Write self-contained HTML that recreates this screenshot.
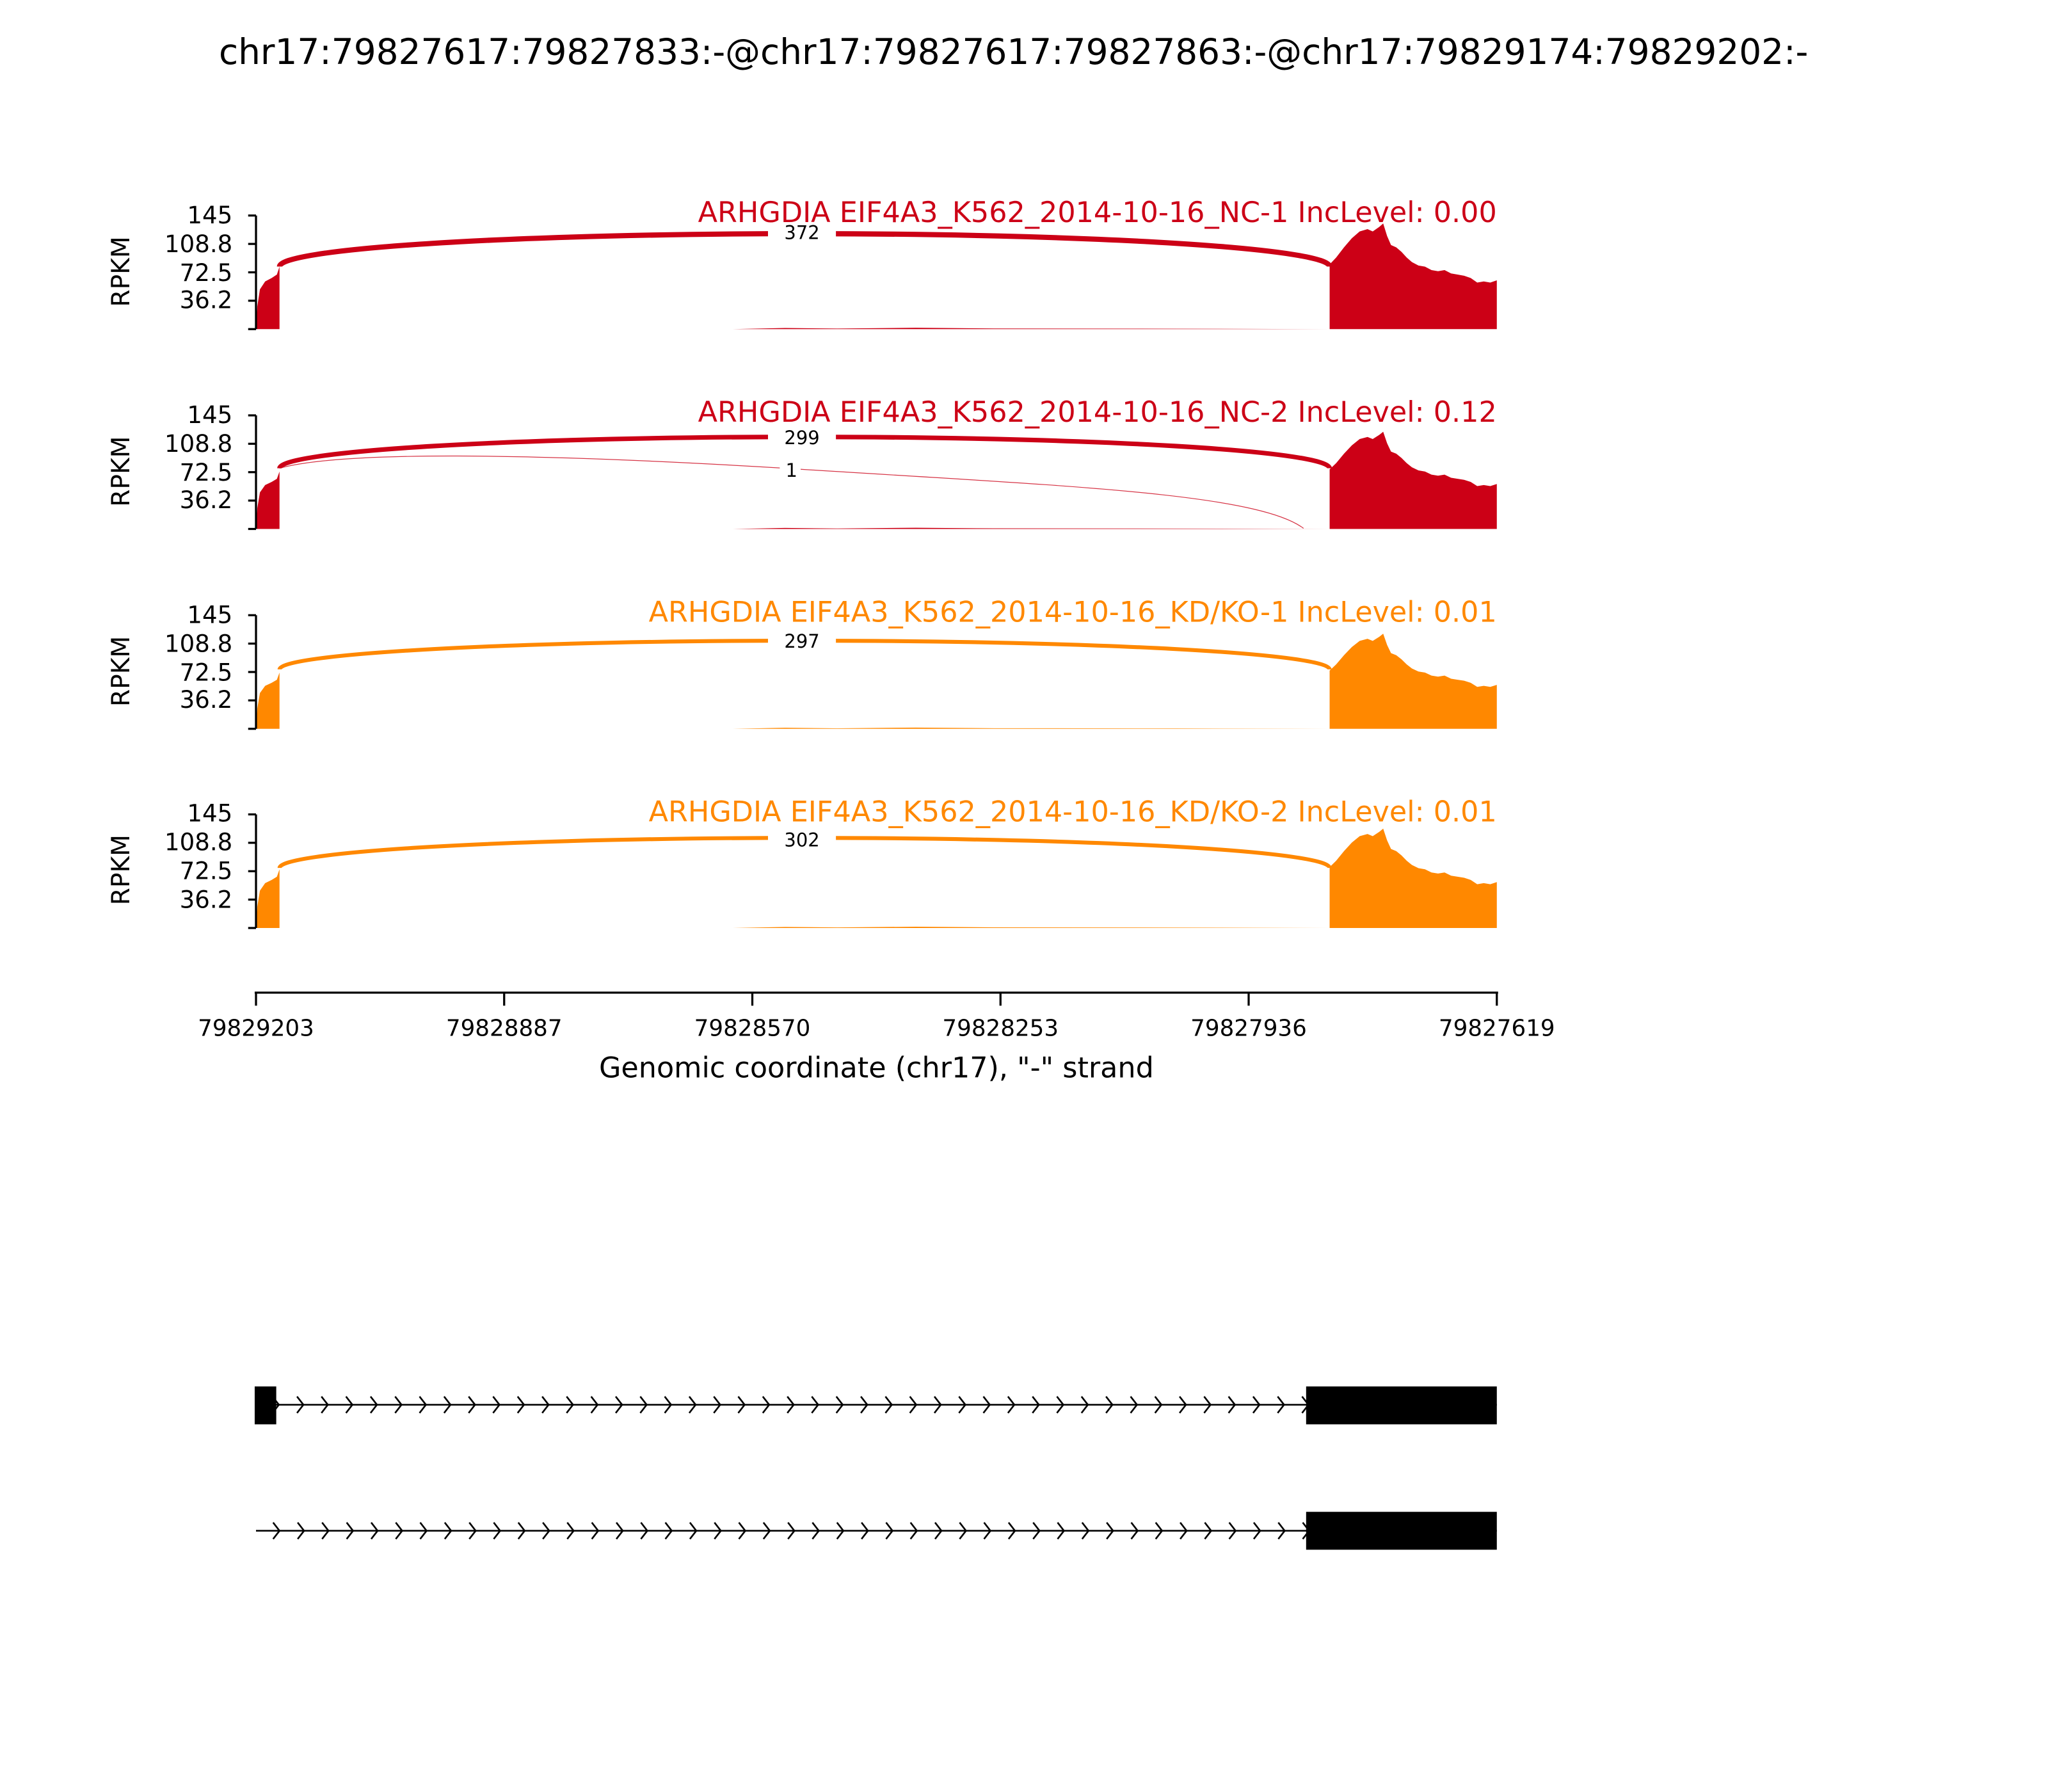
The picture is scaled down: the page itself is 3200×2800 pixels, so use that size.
<!DOCTYPE html>
<html><head><meta charset="utf-8"><style>
html,body{margin:0;padding:0;background:#fff}
svg{display:block}
text{font-family:"DejaVu Sans","Liberation Sans",sans-serif}
</style></head><body>
<svg width="3200" height="2800" viewBox="0 0 1568 1372" preserveAspectRatio="none" xmlns="http://www.w3.org/2000/svg">
<defs>
<path id="rc" d="M1017,0 L1017,0.57 L1022,0.63 L1028,0.72 L1034,0.80 L1040,0.86 L1046,0.88 L1050,0.86 L1055,0.90 L1058,0.93 L1061,0.82 L1064,0.74 L1068,0.72 L1072,0.68 L1076,0.63 L1080,0.59 L1085,0.56 L1090,0.55 L1095,0.52 L1100,0.51 L1105,0.52 L1110,0.49 L1115,0.48 L1120,0.47 L1125,0.45 L1130,0.41 L1135,0.42 L1140,0.41 L1145,0.43 L1145,0 Z"/>
<path id="lc" d="M195,0 L196,0.2 L198,0.35 L202,0.42 L207,0.45 L211,0.48 L213,0.55 L213,0 Z"/>
<path id="mc" d="M195,0 L560,0 L600,0.01 L640,0.005 L700,0.012 L760,0.006 L900,0.004 L1017,0 Z"/>
<path id="chv" d="M207.6,1057.2 l4.9,6.3 l-4.9,6.3 M226.4,1057.2 l4.9,6.3 l-4.9,6.3 M245.1,1057.2 l4.9,6.3 l-4.9,6.3 M263.9,1057.2 l4.9,6.3 l-4.9,6.3 M282.7,1057.2 l4.9,6.3 l-4.9,6.3 M301.5,1057.2 l4.9,6.3 l-4.9,6.3 M320.2,1057.2 l4.9,6.3 l-4.9,6.3 M339,1057.2 l4.9,6.3 l-4.9,6.3 M357.8,1057.2 l4.9,6.3 l-4.9,6.3 M376.5,1057.2 l4.9,6.3 l-4.9,6.3 M395.3,1057.2 l4.9,6.3 l-4.9,6.3 M414.1,1057.2 l4.9,6.3 l-4.9,6.3 M432.8,1057.2 l4.9,6.3 l-4.9,6.3 M451.6,1057.2 l4.9,6.3 l-4.9,6.3 M470.4,1057.2 l4.9,6.3 l-4.9,6.3 M489.2,1057.2 l4.9,6.3 l-4.9,6.3 M507.9,1057.2 l4.9,6.3 l-4.9,6.3 M526.7,1057.2 l4.9,6.3 l-4.9,6.3 M545.5,1057.2 l4.9,6.3 l-4.9,6.3 M564.2,1057.2 l4.9,6.3 l-4.9,6.3 M583,1057.2 l4.9,6.3 l-4.9,6.3 M601.8,1057.2 l4.9,6.3 l-4.9,6.3 M620.5,1057.2 l4.9,6.3 l-4.9,6.3 M639.3,1057.2 l4.9,6.3 l-4.9,6.3 M658.1,1057.2 l4.9,6.3 l-4.9,6.3 M676.9,1057.2 l4.9,6.3 l-4.9,6.3 M695.6,1057.2 l4.9,6.3 l-4.9,6.3 M714.4,1057.2 l4.9,6.3 l-4.9,6.3 M733.2,1057.2 l4.9,6.3 l-4.9,6.3 M751.9,1057.2 l4.9,6.3 l-4.9,6.3 M770.7,1057.2 l4.9,6.3 l-4.9,6.3 M789.5,1057.2 l4.9,6.3 l-4.9,6.3 M808.2,1057.2 l4.9,6.3 l-4.9,6.3 M827,1057.2 l4.9,6.3 l-4.9,6.3 M845.8,1057.2 l4.9,6.3 l-4.9,6.3 M864.6,1057.2 l4.9,6.3 l-4.9,6.3 M883.3,1057.2 l4.9,6.3 l-4.9,6.3 M902.1,1057.2 l4.9,6.3 l-4.9,6.3 M920.9,1057.2 l4.9,6.3 l-4.9,6.3 M939.6,1057.2 l4.9,6.3 l-4.9,6.3 M958.4,1057.2 l4.9,6.3 l-4.9,6.3 M977.2,1057.2 l4.9,6.3 l-4.9,6.3 M995.9,1057.2 l4.9,6.3 l-4.9,6.3"/>
</defs>
<text x="776" y="49" font-size="26.9" text-anchor="middle">chr17:79827617:79827833:-@chr17:79827617:79827863:-@chr17:79829174:79829202:-</text>

<g transform="translate(1,1.5)">
<g transform="translate(0,250.5) scale(1,-87)" fill="#CC0016"><use href="#lc"/><use href="#rc"/><use href="#mc"/></g>
<path d="M213,202.6 A402,25.2 0 0 1 1017,202.6" fill="none" stroke="#CC0016" stroke-width="4"/>
<g transform="translate(0,403.5) scale(1,-87) scale(1,0.92)" fill="#CC0016"><use href="#lc"/><use href="#rc"/><use href="#mc"/></g>
<path d="M213,357 A402,24 0 0 1 1017,357" fill="none" stroke="#CC0016" stroke-width="3.5"/>
<path d="M213,357 C260,344 400,345 600,357 C800,370 960,375 997,403" fill="none" stroke="#CC0016" stroke-width="0.6" opacity="0.8"/>
<g transform="translate(0,556.5) scale(1,-87) scale(1,0.9)" fill="#FF8800"><use href="#lc"/><use href="#rc"/><use href="#mc"/></g>
<path d="M213,511 A402,22 0 0 1 1017,511" fill="none" stroke="#FF8800" stroke-width="3"/>
<g transform="translate(0,709) scale(1,-87) scale(1,0.94)" fill="#FF8800"><use href="#lc"/><use href="#rc"/><use href="#mc"/></g>
<path d="M213,663 A402,23 0 0 1 1017,663" fill="none" stroke="#FF8800" stroke-width="3"/>

<g stroke="#000" stroke-width="1.6" fill="none">
<path d="M195,163.5 V250.5 M189,163.5 H195 M189,185.25 H195 M189,207 H195 M189,228.75 H195 M189,250.5 H195"/>
<path d="M195,316.5 V403.5 M189,316.5 H195 M189,338.25 H195 M189,360 H195 M189,381.75 H195 M189,403.5 H195"/>
<path d="M195,469.5 V556.5 M189,469.5 H195 M189,491.25 H195 M189,513 H195 M189,534.75 H195 M189,556.5 H195"/>
<path d="M195,622 V709 M189,622 H195 M189,643.75 H195 M189,665.5 H195 M189,687.25 H195 M189,709 H195"/>
</g>
</g>

<g transform="translate(1,0)">
<g stroke="#000" stroke-width="1.3" fill="none">
<path d="M195,1075.5 H1145"/>
<path d="M195,1172 H1145"/>
<use href="#chv" transform="translate(0,12)"/>
<use href="#chv" transform="translate(0.5,108.5)"/>
</g>
<rect x="194" y="1061.5" width="16.5" height="29" fill="#000"/>
<rect x="999" y="1061.5" width="146" height="29" fill="#000"/>
<rect x="999" y="1157.5" width="146" height="29" fill="#000"/>
</g>

<rect x="588" y="171" width="52" height="14" fill="#fff"/>
<text x="614" y="183" font-size="14.2" text-anchor="middle">372</text>
<text x="1146" y="170" font-size="21.8" text-anchor="end" fill="#CC0016">ARHGDIA EIF4A3_K562_2014-10-16_NC-1 IncLevel: 0.00</text>

<rect x="588" y="328" width="52" height="14" fill="#fff"/>
<text x="614" y="340" font-size="14.2" text-anchor="middle">299</text>
<rect x="597" y="352" width="16" height="14" fill="#fff"/>
<text x="606" y="365" font-size="14.2" text-anchor="middle">1</text>
<text x="1146" y="323" font-size="21.8" text-anchor="end" fill="#CC0016">ARHGDIA EIF4A3_K562_2014-10-16_NC-2 IncLevel: 0.12</text>

<rect x="588" y="483" width="52" height="14" fill="#fff"/>
<text x="614" y="496" font-size="14.2" text-anchor="middle">297</text>
<text x="1146" y="476" font-size="21.8" text-anchor="end" fill="#FF8800">ARHGDIA EIF4A3_K562_2014-10-16_KD/KO-1 IncLevel: 0.01</text>

<rect x="588" y="635" width="52" height="14" fill="#fff"/>
<text x="614" y="648" font-size="14.2" text-anchor="middle">302</text>
<text x="1146" y="629" font-size="21.8" text-anchor="end" fill="#FF8800">ARHGDIA EIF4A3_K562_2014-10-16_KD/KO-2 IncLevel: 0.01</text>

<g font-size="18.2" text-anchor="end">
<text x="178" y="171">145</text><text x="178" y="193">108.8</text><text x="178" y="215">72.5</text><text x="178" y="236">36.2</text>
<text x="178" y="324">145</text><text x="178" y="346">108.8</text><text x="178" y="368">72.5</text><text x="178" y="389">36.2</text>
<text x="178" y="477">145</text><text x="178" y="499">108.8</text><text x="178" y="521">72.5</text><text x="178" y="542">36.2</text>
<text x="178" y="629">145</text><text x="178" y="651">108.8</text><text x="178" y="673">72.5</text><text x="178" y="695">36.2</text>
</g>
<g font-size="19.2" text-anchor="middle">
<text transform="translate(99,208) rotate(-90)">RPKM</text>
<text transform="translate(99,361) rotate(-90)">RPKM</text>
<text transform="translate(99,514) rotate(-90)">RPKM</text>
<text transform="translate(99,666) rotate(-90)">RPKM</text>
</g>

<g stroke="#000" stroke-width="1.6">
<path d="M195,760 H1147"/>
<path d="M196,760 V770 M386,760 V770 M576,760 V770 M766,760 V770 M956,760 V770 M1146,760 V770"/>
</g>
<g font-size="17.5" text-anchor="middle">
<text x="196" y="793">79829203</text><text x="386" y="793">79828887</text><text x="576" y="793">79828570</text>
<text x="766" y="793">79828253</text><text x="956" y="793">79827936</text><text x="1146" y="793">79827619</text>
</g>
<text x="671" y="825" font-size="21.8" text-anchor="middle">Genomic coordinate (chr17), "-" strand</text>
</svg>
</body></html>
